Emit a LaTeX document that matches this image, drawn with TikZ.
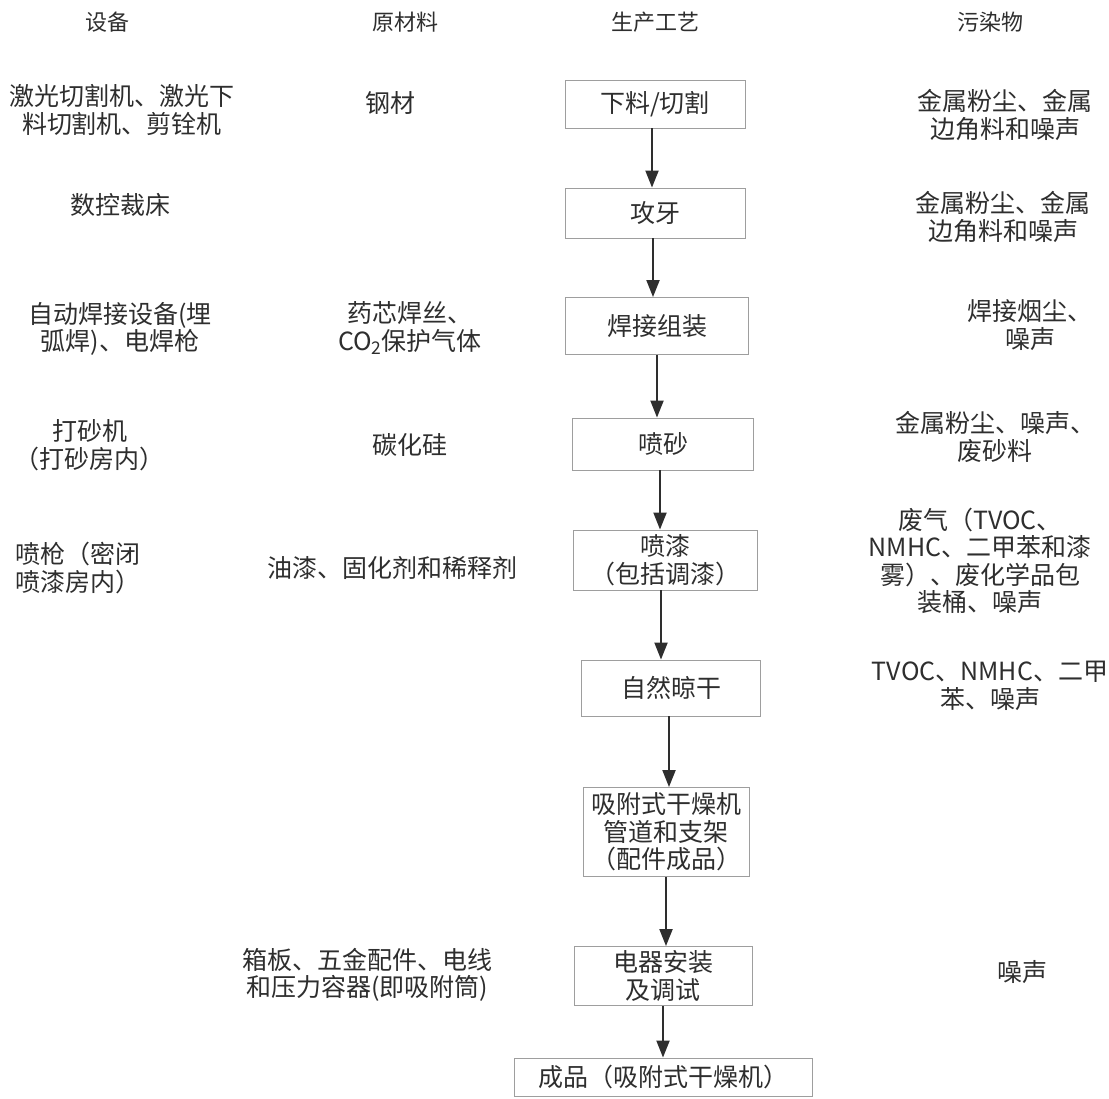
\documentclass[tikz,border=0pt]{standalone}
\usepackage{fontspec}
\newfontfamily\cjk{Noto Sans CJK SC}
\usetikzlibrary{arrows.meta}
\definecolor{ink}{gray}{0.18}
\definecolor{boxline}{gray}{0.62}
\tikzset{
  txt/.style={text=ink, align=center, inner sep=0pt, font=\cjk\fontsize{25}{27.5}\selectfont},
  hdr/.style={text=ink, inner sep=0pt, font=\cjk\fontsize{22}{26}\selectfont},
  stepbox/.style={txt, draw=boxline, line width=0.9pt},
  arr/.style={draw=ink, line width=2pt, -{Triangle[length=17pt,width=13pt]}},
}
\begin{document}
\begin{tikzpicture}[x=1pt,y=-1pt]
\useasboundingbox (0,0) rectangle (1109,1099);
\fill[white] (0,0) rectangle (1109,1099);
% headers
\node[hdr] (h1) at (107,22) {设备};
\node[hdr] (h2) at (405,22) {原材料};
\node[hdr] (h3) at (655,22) {生产工艺};
\node[hdr] (h4) at (990,22) {污染物};
% process boxes
\node[stepbox, minimum width=180, minimum height=48] (b1) at (655,104) {下料/切割};
\node[stepbox, minimum width=180, minimum height=50] (b2) at (655,213) {攻牙};
\node[stepbox, minimum width=183, minimum height=57] (b3) at (657,326) {焊接组装};
\node[stepbox, minimum width=181, minimum height=52] (b4) at (663,444) {喷砂};
\node[stepbox, minimum width=184, minimum height=60] (b5) at (665,560) {喷漆\\（包括调漆）};
\node[stepbox, minimum width=179, minimum height=56] (b6) at (671,688) {自然晾干};
\node[stepbox, minimum width=166, minimum height=89] (b7) at (666,832) {吸附式干燥机\\管道和支架\\（配件成品）};
\node[stepbox, minimum width=178, minimum height=59] (b8) at (663,976) {电器安装\\及调试};
\node[stepbox, minimum width=298, minimum height=38] (b9) at (663,1077) {成品（吸附式干燥机）};
% arrows
\draw[arr] ([xshift=-3pt]b1.south) -- ([xshift=-3pt]b1.south |- b2.north);
\draw[arr] ([xshift=-2pt]b2.south) -- ([xshift=-2pt]b2.south |- b3.north);
\draw[arr] (b3.south) -- (b3.south |- b4.north);
\draw[arr] ([xshift=-3pt]b4.south) -- ([xshift=-3pt]b4.south |- b5.north);
\draw[arr] ([xshift=-4pt]b5.south) -- ([xshift=-4pt]b5.south |- b6.north);
\draw[arr] ([xshift=-2pt]b6.south) -- ([xshift=-2pt]b6.south |- b7.north);
\draw[arr] (b7.south) -- (b7.south |- b8.north);
\draw[arr] (b8.south) -- (b8.south |- b9.north);
% equipment
\node[txt] (e1) at (122,110) {激光切割机、激光下\\料切割机、剪铨机};
\node[txt] (e2) at (120,205) {数控裁床};
\node[txt] (e3) at (120,329) {自动焊接设备(埋\\弧焊)、电焊枪};
\node[txt] (e4) at (90,445) {打砂机\\（打砂房内）};
\node[txt, align=left, anchor=west] (e5) at (15,568) {喷枪（密闭\\喷漆房内）};
% materials
\node[txt] (m1) at (390,103) {钢材};
\node[txt] (m3) at (410,328) {药芯焊丝、\\CO\textsubscript{2}保护气体};
\node[txt] (m4) at (410,445) {碳化硅};
\node[txt] (m5) at (392,568) {油漆、固化剂和稀释剂};
\node[txt] (m8) at (367,975) {箱板、五金配件、电线\\和压力容器(即吸附筒)};
% pollutants
\node[txt] (p1) at (1005,115) {金属粉尘、金属\\边角料和噪声};
\node[txt] (p2) at (1003,217) {金属粉尘、金属\\边角料和噪声};
\node[txt] (p3) at (1030,325) {焊接烟尘、\\噪声};
\node[txt] (p4) at (995,437) {金属粉尘、噪声、\\废砂料};
\node[txt] (p5) at (980,561) {废气（TVOC、\\NMHC、二甲苯和漆\\雾）、废化学品包\\装桶、噪声};
\node[txt] (p6) at (990,686) {TVOC、NMHC、二甲\\苯、噪声};
\node[txt] (p8) at (1022,972) {噪声};
\end{tikzpicture}
\end{document}
